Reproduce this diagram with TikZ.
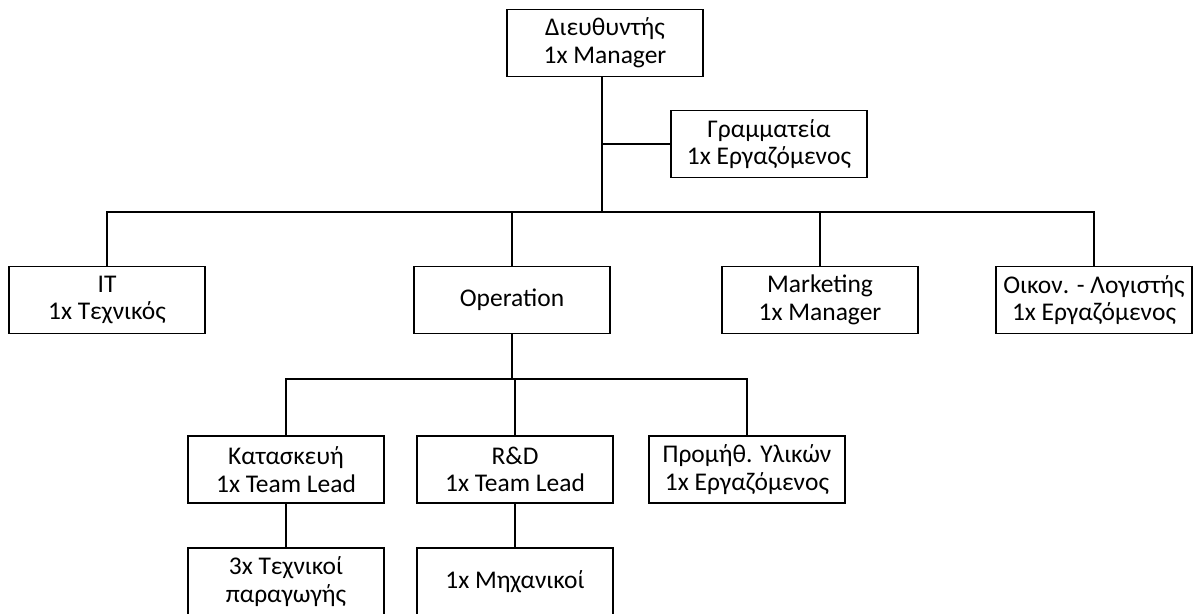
\documentclass[tikz,border=0pt]{standalone}
\usepackage{fontspec}
\setmainfont{Carlito}
\usepackage{tikz}
\usetikzlibrary{calc}

\tikzset{
  unit/.style={draw,line width=1.1pt,minimum width=3.92cm,minimum height=1.34cm,inner sep=0pt,align=center,font=\fontsize{14.5}{15.8}\selectfont},
  link/.style={line width=1.1pt}
}

\begin{document}
\begin{tikzpicture}[x=0.02cm,y=-0.02cm]
\useasboundingbox (0,0) rectangle (1193,613);
% Top level
\node[unit] (dir) at (605,43) {Διευθυντής\\1x Manager};
\node[unit] (sec) at (769,144) {Γραμματεία\\1x Εργαζόμενος};
\coordinate (bus1) at (602,212);
\draw[link] ($(dir.south)+(-3,0)$) -- (bus1);
\draw[link] (sec.west) -- (sec.west -| bus1);

% Departments
\node[unit] (it) at (107,300) {IT\\1x Τεχνικός};
\node[unit] (oper) at (512,300) {Operation};
\node[unit] (mkt) at (820,300) {Marketing\\1x Manager};
\node[unit] (acc) at (1094,300) {Οικον. - Λογιστής\\1x Εργαζόμενος};
\draw[link] (it.north) |- (bus1) -| (acc.north);
\draw[link] (oper.north) -- (oper.north |- bus1);
\draw[link] (mkt.north) -- (mkt.north |- bus1);

% Operation
\node[unit] (kat) at (286,469.5) {Κατασκευή\\1x Team Lead};
\node[unit] (rnd) at (515,469.5) {R\&D\\1x Team Lead};
\node[unit] (prom) at (747,469.5) {Προμήθ. Υλικών\\1x Εργαζόμενος};
\coordinate (bus2) at (515,379);
\draw[link] (oper.south) -- (oper.south |- bus2);
\draw[link] (kat.north) |- (bus2) -| (prom.north);
\draw[link] (rnd.north) -- (bus2);

% Staff
\node[unit] (tech) at (286,581.5) {3x Τεχνικοί\\παραγωγής};
\node[unit] (eng) at (515,581.5) {1x Μηχανικοί};
\draw[link] (kat) -- (tech);
\draw[link] (rnd) -- (eng);
\end{tikzpicture}
\end{document}
